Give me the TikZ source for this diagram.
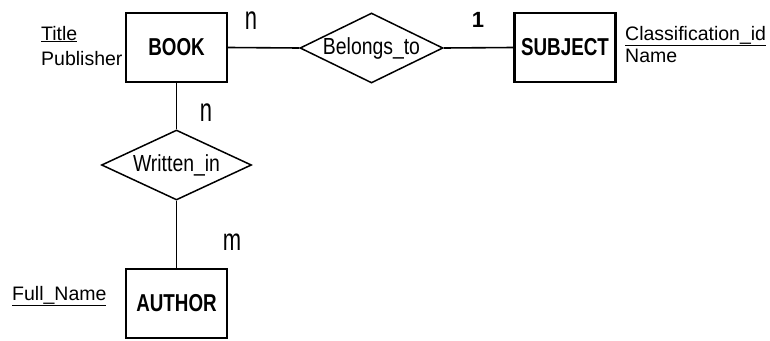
\documentclass[tikz,border=0pt]{standalone}
\usepackage{fontspec}
\setmainfont{Liberation Sans}
\usetikzlibrary{shapes.geometric}
\newcommand{\vstr}[2]{\scalebox{1}[#1]{#2}}
\begin{document}
\begin{tikzpicture}[x=1pt,y=-1pt,
  entity/.style={draw, line width=2.2pt, minimum width=101pt, minimum height=69pt, inner sep=0pt,
    font=\fontsize{18.8}{22}\selectfont\bfseries},
  rel/.style={draw, diamond, line width=1.5pt, minimum width=143pt, minimum height=70pt, inner sep=0pt},
  rtext/.style={font=\fontsize{19.4}{22}\selectfont},
  attr/.style={anchor=base west, inner sep=0pt, font=\fontsize{19.5}{22}\selectfont},
  card/.style={inner sep=0pt, font=\fontsize{22}{24}\selectfont},
  conn/.style={line width=1.6pt}]
\useasboundingbox (0,0) rectangle (770,340);
% entities
\node[entity] (book) at (176.5,47.5) {\vstr{1.3}{BOOK}};
\node[entity] (subject) at (565,47.5) {\vstr{1.3}{SUBJECT}};
\node[entity] (author) at (176.5,303.5) {\vstr{1.3}{AUTHOR}};
% relationships
\node[rel] (bel) at (371.5,48) {};
\node[rtext] (belt) at (bel) {\vstr{1.2}{Belongs\_to}};
\node[rel, minimum width=150pt] (wri) at (176.5,165) {};
\node[rtext] (writ) at (wri) {\vstr{1.2}{Written\_in}};
% connectors
\draw[conn] (book.east) -- (bel.west);
\draw[conn] (bel.east) -- (subject.west);
\draw[conn] (book.south) -- (wri.north);
\draw[conn] (wri.south) -- (author.north);
% cardinalities
\node[card] (c1) at (251,21) {\vstr{1.5}{n}};
\node[card] (c2) at (478,20) {\bfseries 1};
\node[card] (c3) at (206,113) {\vstr{1.5}{n}};
\node[card] (c4) at (232,242) {\vstr{1.4}{m}};
% attributes
\node[attr] (a1) at (41,40) {\underline{Title}};
\node[attr] (a2) at (41,65) {Publisher};
\node[attr] (a3) at (625,40) {\underline{Classification\_id}};
\node[attr] (a4) at (625,62) {Name};
\node[attr] (a5) at (12,300) {\underline{Full\_Name}};
\end{tikzpicture}
\end{document}
